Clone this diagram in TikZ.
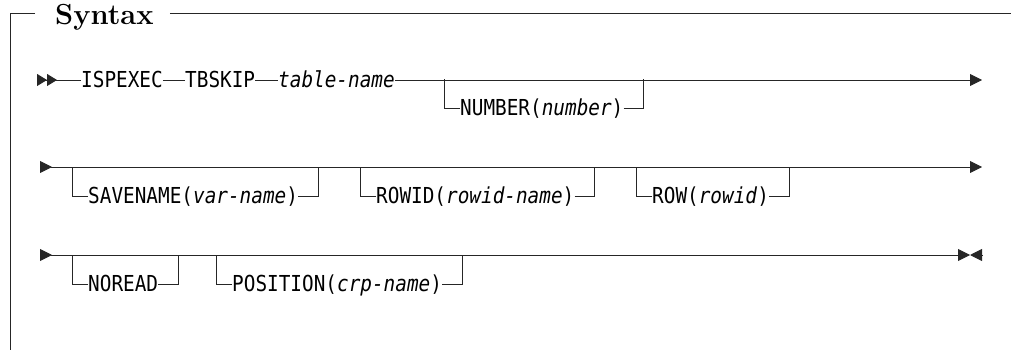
\documentclass[tikz,border=0pt]{standalone}
\usepackage{fontspec}
\usetikzlibrary{arrows.meta}
\newfontfamily\synfont[FakeStretch=0.88]{DejaVu Sans Mono}
\tikzset{
  kw/.style={font=\fontsize{22}{24}\synfont, inner sep=0pt, anchor=west, text height=15.6pt, text depth=0pt},
  rail/.style={line width=0.9pt, black!85},
  railtip/.tip={Triangle[length=12pt,width=12pt]},
  backtip/.tip={Triangle[reversed,length=12pt,width=12pt]}
}
\begin{document}
\begin{tikzpicture}[x=1pt,y=-1pt]
\useasboundingbox (0,0) rectangle (1011,350);
% frame
\node[font=\fontsize{29}{32}\selectfont\bfseries, inner sep=0pt, anchor=base west] (title) at (55,25) {Syntax};
\coordinate (tl) at (10,13);
\coordinate (bl) at (10,350);
\coordinate (tr) at (1011,13);
\draw[rail] ([xshift=-20pt]title.west |- tl) -- (tl) -- (bl);
\draw[rail] ([xshift=16pt]title.east |- tr) -- (tr);
% first row
\coordinate (s1) at (37,80);
\coordinate (e1) at (982,80);
\node[kw] (ispexec) at (81,80) {ISPEXEC};
\node[kw] (tbskip) at (185,80) {TBSKIP};
\node[kw] (tname) at (278,80) {\itshape table-name};
\node[kw] (number) at (460,108) {NUMBER(\textit{number})};
\draw[rail, {Triangle[reversed,length=10pt,width=12pt]Triangle[reversed,length=10pt,width=12pt]}-] (s1) -- (ispexec.west);
\draw[rail] (ispexec.east) -- (tbskip.west);
\draw[rail] (tbskip.east) -- (tname.west);
\draw[rail, -{railtip}] (tname.east) -- (e1);
% second row
\coordinate (s2) at (40,167);
\coordinate (e2) at (982,167);
\draw[rail, {backtip}-{railtip}] (s2) -- (e2);
\node[kw] (savename) at (88,196) {SAVENAME(\textit{var-name})};
\node[kw] (rowid) at (376,196) {ROWID(\textit{rowid-name})};
\node[kw] (row) at (652,196) {ROW(\textit{rowid})};
% third row
\coordinate (s3) at (40,255);
\coordinate (e3) at (970,255);
\coordinate (x3) at (982,255);
\draw[rail, {backtip}-{railtip}] (s3) -- (e3);
\draw[rail, {railtip}-] (e3) -- (x3);
\node[kw] (noread) at (88,284) {NOREAD};
\node[kw] (position) at (232,284) {POSITION(\textit{crp-name})};
% optional branches
\foreach \b in {number,savename,rowid,row,noread,position}
  \draw[rail] (\b.west) -- ++(-16,0) -- ++(0,-29)
              (\b.east) -- ++(20,0) -- ++(0,-29);
\end{tikzpicture}
\end{document}
